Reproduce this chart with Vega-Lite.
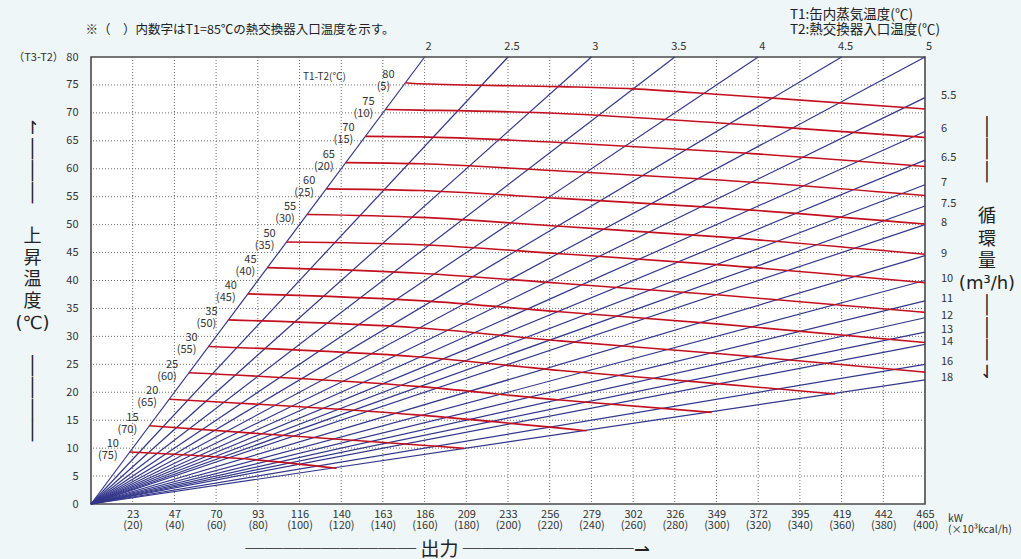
{
  "$schema": "https://vega.github.io/schema/vega-lite/v6.json",
  "width": 834,
  "height": 447,
  "autosize": {"type": "none"},
  "padding": {"left": 91, "top": 57, "right": 96, "bottom": 55},
  "background": "#eef6f8",
  "config": {
    "font": "Noto Sans CJK JP",
    "view": {"fill": "#ffffff", "stroke": "#4a4a4a", "strokeWidth": 1.6},
    "axis": {
      "labelFont": "Noto Sans CJK JP",
      "labelColor": "#333333",
      "labelFontSize": 11,
      "ticks": false,
      "domain": false,
      "grid": false
    },
    "text": {"font": "Noto Sans CJK JP", "fontSize": 11, "color": "#333333"}
  },
  "datasets": {
    "xticks": [
      {"p": 20}, {"p": 40}, {"p": 60}, {"p": 80}, {"p": 100}, {"p": 120}, {"p": 140},
      {"p": 160}, {"p": 180}, {"p": 200}, {"p": 220}, {"p": 240}, {"p": 260}, {"p": 280},
      {"p": 300}, {"p": 320}, {"p": 340}, {"p": 360}, {"p": 380}
    ],
    "yticks": [
      {"dt": 5}, {"dt": 10}, {"dt": 15}, {"dt": 20}, {"dt": 25}, {"dt": 30}, {"dt": 35},
      {"dt": 40}, {"dt": 45}, {"dt": 50}, {"dt": 55}, {"dt": 60}, {"dt": 65}, {"dt": 70}, {"dt": 75}
    ],
    "flow": [
      {"q": 2, "p": 0, "dt": 0}, {"q": 2, "p": 160, "dt": 80},
      {"q": 2.5, "p": 0, "dt": 0}, {"q": 2.5, "p": 200, "dt": 80},
      {"q": 3, "p": 0, "dt": 0}, {"q": 3, "p": 240, "dt": 80},
      {"q": 3.5, "p": 0, "dt": 0}, {"q": 3.5, "p": 280, "dt": 80},
      {"q": 4, "p": 0, "dt": 0}, {"q": 4, "p": 320, "dt": 80},
      {"q": 4.5, "p": 0, "dt": 0}, {"q": 4.5, "p": 360, "dt": 80},
      {"q": 5, "p": 0, "dt": 0}, {"q": 5, "p": 400, "dt": 80},
      {"q": 5.5, "p": 0, "dt": 0}, {"q": 5.5, "p": 400, "dt": 72.73},
      {"q": 6, "p": 0, "dt": 0}, {"q": 6, "p": 400, "dt": 66.67},
      {"q": 6.5, "p": 0, "dt": 0}, {"q": 6.5, "p": 400, "dt": 61.54},
      {"q": 7, "p": 0, "dt": 0}, {"q": 7, "p": 400, "dt": 57.14},
      {"q": 7.5, "p": 0, "dt": 0}, {"q": 7.5, "p": 400, "dt": 53.33},
      {"q": 8, "p": 0, "dt": 0}, {"q": 8, "p": 400, "dt": 50},
      {"q": 9, "p": 0, "dt": 0}, {"q": 9, "p": 400, "dt": 44.44},
      {"q": 10, "p": 0, "dt": 0}, {"q": 10, "p": 400, "dt": 40},
      {"q": 11, "p": 0, "dt": 0}, {"q": 11, "p": 400, "dt": 36.36},
      {"q": 12, "p": 0, "dt": 0}, {"q": 12, "p": 400, "dt": 33.33},
      {"q": 13, "p": 0, "dt": 0}, {"q": 13, "p": 400, "dt": 30.77},
      {"q": 14, "p": 0, "dt": 0}, {"q": 14, "p": 400, "dt": 28.57},
      {"q": 16, "p": 0, "dt": 0}, {"q": 16, "p": 400, "dt": 25},
      {"q": 18, "p": 0, "dt": 0}, {"q": 18, "p": 400, "dt": 22.22}
    ],
    "diff": [
      {"tt": 80, "k": 0, "sub": "(5)", "p": 150.8, "dt": 75.4},
      {"tt": 80, "k": 1, "p": 157.8, "dt": 75.2},
      {"tt": 80, "k": 2, "p": 224.9, "dt": 74.7},
      {"tt": 80, "k": 3, "p": 260, "dt": 74.3},
      {"tt": 80, "k": 4, "p": 301.7, "dt": 73.3},
      {"tt": 80, "k": 5, "p": 400, "dt": 70.7},
      {"tt": 75, "k": 0, "sub": "(10)", "p": 141.2, "dt": 70.6},
      {"tt": 75, "k": 1, "p": 157.8, "dt": 70.5},
      {"tt": 75, "k": 2, "p": 224.9, "dt": 69.9},
      {"tt": 75, "k": 3, "p": 301.7, "dt": 68.2},
      {"tt": 75, "k": 4, "p": 400, "dt": 65.6},
      {"tt": 70, "k": 0, "sub": "(15)", "p": 131.6, "dt": 65.8},
      {"tt": 70, "k": 1, "p": 157.8, "dt": 65.7},
      {"tt": 70, "k": 2, "p": 224.9, "dt": 64.7},
      {"tt": 70, "k": 3, "p": 301.7, "dt": 63.1},
      {"tt": 70, "k": 4, "p": 400, "dt": 60.4},
      {"tt": 65, "k": 0, "sub": "(20)", "p": 122.2, "dt": 61.1},
      {"tt": 65, "k": 1, "p": 157.8, "dt": 60.9},
      {"tt": 65, "k": 2, "p": 224.9, "dt": 59.6},
      {"tt": 65, "k": 3, "p": 301.7, "dt": 58.0},
      {"tt": 65, "k": 4, "p": 400, "dt": 55.2},
      {"tt": 60, "k": 0, "sub": "(25)", "p": 112.8, "dt": 56.4},
      {"tt": 60, "k": 1, "p": 157.8, "dt": 56.1},
      {"tt": 60, "k": 2, "p": 224.9, "dt": 54.7},
      {"tt": 60, "k": 3, "p": 301.7, "dt": 53.0},
      {"tt": 60, "k": 4, "p": 400, "dt": 50.1},
      {"tt": 55, "k": 0, "sub": "(30)", "p": 103.6, "dt": 51.8},
      {"tt": 55, "k": 1, "p": 157.8, "dt": 51.3},
      {"tt": 55, "k": 2, "p": 224.9, "dt": 49.7},
      {"tt": 55, "k": 3, "p": 301.7, "dt": 47.8},
      {"tt": 55, "k": 4, "p": 400, "dt": 44.7},
      {"tt": 50, "k": 0, "sub": "(35)", "p": 93.8, "dt": 46.9},
      {"tt": 50, "k": 1, "p": 157.8, "dt": 46.4},
      {"tt": 50, "k": 2, "p": 224.9, "dt": 44.8},
      {"tt": 50, "k": 3, "p": 301.7, "dt": 42.8},
      {"tt": 50, "k": 4, "p": 400, "dt": 39.6},
      {"tt": 45, "k": 0, "sub": "(40)", "p": 84.6, "dt": 42.3},
      {"tt": 45, "k": 1, "p": 157.8, "dt": 41.3},
      {"tt": 45, "k": 2, "p": 224.9, "dt": 39.5},
      {"tt": 45, "k": 3, "p": 301.7, "dt": 37.4},
      {"tt": 45, "k": 4, "p": 400, "dt": 34.3},
      {"tt": 40, "k": 0, "sub": "(45)", "p": 75.2, "dt": 37.6},
      {"tt": 40, "k": 1, "p": 157.8, "dt": 36.4},
      {"tt": 40, "k": 2, "p": 224.9, "dt": 34.4},
      {"tt": 40, "k": 3, "p": 301.7, "dt": 32.2},
      {"tt": 40, "k": 4, "p": 400, "dt": 28.9},
      {"tt": 35, "k": 0, "sub": "(50)", "p": 65.9, "dt": 32.95},
      {"tt": 35, "k": 1, "p": 157.8, "dt": 31.5},
      {"tt": 35, "k": 2, "p": 224.9, "dt": 29.2},
      {"tt": 35, "k": 3, "p": 301.7, "dt": 26.9},
      {"tt": 35, "k": 4, "p": 400, "dt": 23.6},
      {"tt": 30, "k": 0, "sub": "(55)", "p": 56.4, "dt": 28.2},
      {"tt": 30, "k": 1, "p": 157.8, "dt": 26.3},
      {"tt": 30, "k": 2, "p": 224.9, "dt": 23.9},
      {"tt": 30, "k": 3, "p": 301.7, "dt": 21.5},
      {"tt": 30, "k": 4, "p": 356.8, "dt": 19.7},
      {"tt": 25, "k": 0, "sub": "(60)", "p": 47.0, "dt": 23.5},
      {"tt": 25, "k": 1, "p": 157.8, "dt": 21.0},
      {"tt": 25, "k": 2, "p": 224.9, "dt": 18.6},
      {"tt": 25, "k": 3, "p": 297.7, "dt": 16.4},
      {"tt": 20, "k": 0, "sub": "(65)", "p": 37.5, "dt": 18.75},
      {"tt": 20, "k": 1, "p": 157.8, "dt": 15.9},
      {"tt": 20, "k": 2, "p": 237.7, "dt": 13.1},
      {"tt": 15, "k": 0, "sub": "(70)", "p": 28.0, "dt": 14.0},
      {"tt": 15, "k": 1, "p": 167.4, "dt": 10.3},
      {"tt": 15, "k": 2, "p": 179, "dt": 9.95},
      {"tt": 10, "k": 0, "sub": "(75)", "p": 18.6, "dt": 9.3},
      {"tt": 10, "k": 1, "p": 79.5, "dt": 7.9},
      {"tt": 10, "k": 2, "p": 117.8, "dt": 6.4}
    ]
  },
  "resolve": {"axis": {"x": "independent", "y": "independent"}},
  "layer": [
    {
      "data": {"name": "xticks"},
      "mark": {"type": "rule", "color": "#555555", "strokeWidth": 1, "strokeDash": [1, 2], "opacity": 0.85},
      "encoding": {
        "x": {
          "field": "p",
          "type": "quantitative",
          "scale": {"domain": [0, 400], "nice": false, "zero": true},
          "axis": {
            "orient": "bottom",
            "values": [20, 40, 60, 80, 100, 120, 140, 160, 180, 200, 220, 240, 260, 280, 300, 320, 340, 360, 380, 400],
            "labelExpr": "split(round(datum.value / 0.86) + '|(' + datum.value + ')', '|')",
            "labelLineHeight": 11,
            "labelPadding": 4,
            "labelBaseline": "top",
            "labelFlush": false,
            "labelOverlap": false,
            "title": "─────────  出力  ─────────⇀",
            "titleFont": "Noto Sans CJK JP",
            "titleFontSize": 19,
            "titleFontWeight": "normal",
            "titleColor": "#222222",
            "titleX": 356,
            "titleY": 45,
            "titleAlign": "center",
            "titleBaseline": "middle"
          }
        }
      }
    },
    {
      "data": {"name": "yticks"},
      "mark": {"type": "rule", "color": "#555555", "strokeWidth": 1, "strokeDash": [1, 2], "opacity": 0.85},
      "encoding": {
        "y": {
          "field": "dt",
          "type": "quantitative",
          "scale": {"domain": [0, 80], "nice": false, "zero": true},
          "axis": {
            "orient": "left",
            "values": [0, 5, 10, 15, 20, 25, 30, 35, 40, 45, 50, 55, 60, 65, 70, 75, 80],
            "labelExpr": "datum.value == 80 ? '（T3-T2） 80' : datum.label",
            "labelPadding": 13,
            "labelBaseline": "middle",
            "labelOverlap": false,
            "title": ["↾", "│", "│", "│", "\u200b", "上", "昇", "温", "度", "(℃)", "\u200b", "│", "│", "│", "│"],
            "titleFont": "DejaVu Sans, Noto Sans CJK JP",
            "titleFontSize": 18,
            "titleFontWeight": "normal",
            "titleColor": "#222222",
            "titleAngle": 0,
            "titleX": -59,
            "titleY": 62,
            "titleAlign": "center",
            "titleBaseline": "top",
            "titleLineHeight": 21.7
          }
        }
      }
    },
    {
      "data": {"name": "flow"},
      "mark": {"type": "line", "color": "#33378a", "strokeWidth": 1.2},
      "encoding": {
        "x": {"field": "p", "type": "quantitative", "axis": null},
        "y": {"field": "dt", "type": "quantitative", "axis": null},
        "detail": {"field": "q", "type": "nominal"}
      }
    },
    {
      "data": {"name": "diff"},
      "mark": {"type": "line", "color": "#c40f1f", "strokeWidth": 1.6, "interpolate": "monotone"},
      "encoding": {
        "x": {"field": "p", "type": "quantitative", "axis": null},
        "y": {"field": "dt", "type": "quantitative", "axis": null},
        "detail": {"field": "tt", "type": "nominal"}
      }
    },
    {
      "data": {"name": "flow"},
      "transform": [{"filter": "datum.dt == 80"}],
      "mark": {"type": "text", "dx": 4, "dy": -10, "align": "center", "baseline": "middle", "fontSize": 11},
      "encoding": {
        "x": {"field": "p", "type": "quantitative", "axis": null},
        "y": {"field": "dt", "type": "quantitative", "axis": null},
        "text": {"field": "q", "type": "nominal"}
      }
    },
    {
      "data": {"name": "flow"},
      "transform": [{"filter": "datum.p == 400 && datum.dt < 80"}],
      "mark": {"type": "text", "dx": 16, "dy": -2, "align": "left", "baseline": "middle", "fontSize": 11},
      "encoding": {
        "x": {"field": "p", "type": "quantitative", "axis": null},
        "y": {"field": "dt", "type": "quantitative", "axis": null},
        "text": {"field": "q", "type": "nominal"}
      }
    },
    {
      "data": {"name": "diff"},
      "transform": [{"filter": "datum.k == 0"}],
      "mark": {"type": "text", "dx": -17, "dy": -8, "align": "center", "baseline": "middle", "fontSize": 11},
      "encoding": {
        "x": {"field": "p", "type": "quantitative", "axis": null},
        "y": {"field": "dt", "type": "quantitative", "axis": null},
        "text": {"field": "tt", "type": "nominal"}
      }
    },
    {
      "data": {"name": "diff"},
      "transform": [{"filter": "datum.k == 0"}],
      "mark": {"type": "text", "dx": -22, "dy": 4, "align": "center", "baseline": "middle", "fontSize": 11},
      "encoding": {
        "x": {"field": "p", "type": "quantitative", "axis": null},
        "y": {"field": "dt", "type": "quantitative", "axis": null},
        "text": {"field": "sub", "type": "nominal"}
      }
    },
    {
      "data": {"name": "diff"},
      "transform": [{"filter": "datum.k == 0 && datum.tt == 80"}],
      "mark": {"type": "text", "text": "T1-T2(℃)", "dx": -81, "dy": -6, "align": "center", "baseline": "middle", "fontSize": 10},
      "encoding": {
        "x": {"field": "p", "type": "quantitative", "axis": null},
        "y": {"field": "dt", "type": "quantitative", "axis": null}
      }
    },
    {
      "data": {"name": "flow"},
      "transform": [{"filter": "datum.q == 2 && datum.dt == 80"}],
      "mark": {"type": "text", "text": "※（　）内数字はT1=85℃の熱交換器入口温度を示す。", "dx": -339, "dy": -27, "align": "left", "baseline": "middle", "fontSize": 12.5, "color": "#222222"},
      "encoding": {
        "x": {"field": "p", "type": "quantitative", "axis": null},
        "y": {"field": "dt", "type": "quantitative", "axis": null}
      }
    },
    {
      "data": {"name": "flow"},
      "transform": [{"filter": "datum.q == 5 && datum.dt == 80"}],
      "mark": {"type": "text", "text": ["T1:缶内蒸気温度(℃)", "T2:熱交換器入口温度(℃)"], "lineHeight": 15, "dx": -135, "dy": -42, "align": "left", "baseline": "middle", "fontSize": 13.5, "color": "#222222"},
      "encoding": {
        "x": {"field": "p", "type": "quantitative", "axis": null},
        "y": {"field": "dt", "type": "quantitative", "axis": null}
      }
    },
    {
      "data": {"name": "flow"},
      "transform": [{"filter": "datum.q == 5 && datum.dt == 80"}],
      "mark": {
        "type": "text",
        "text": ["│", "│", "│", "\u200b", "循", "環", "量", "(m³/h)", "│", "│", "│", "⇃"],
        "font": "DejaVu Sans, Noto Sans CJK JP",
        "fontSize": 18,
        "lineHeight": 22.3,
        "dx": 62,
        "dy": 62,
        "align": "center",
        "baseline": "top",
        "color": "#222222"
      },
      "encoding": {
        "x": {"field": "p", "type": "quantitative", "axis": null},
        "y": {"field": "dt", "type": "quantitative", "axis": null}
      }
    },
    {
      "data": {"name": "flow"},
      "transform": [{"filter": "datum.q == 5 && datum.dt == 80"}],
      "mark": {"type": "text", "text": ["kW", "(×10³kcal/h)"], "lineHeight": 11, "dx": 23, "dy": 457, "align": "left", "baseline": "top", "fontSize": 10.5},
      "encoding": {
        "x": {"field": "p", "type": "quantitative", "axis": null},
        "y": {"field": "dt", "type": "quantitative", "axis": null}
      }
    }
  ]
}
